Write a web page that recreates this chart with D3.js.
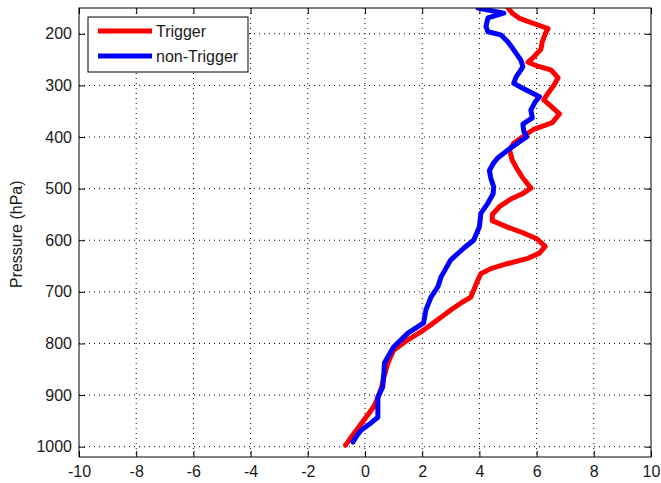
<!DOCTYPE html>
<html>
<head>
<meta charset="utf-8">
<script src="https://cdn.jsdelivr.net/npm/d3@7"></script>
<style>
  html, body { margin: 0; padding: 0; background: #fff; }
  svg { display: block; }
  text { font-family: "Liberation Sans", Arial, sans-serif; fill: #1a1a1a; }
</style>
</head>
<body>
<svg id="chart" width="661" height="483"></svg>
<script>
// Pressure levels (hPa) and values for each profile
const triggerPressure = [150,160,170,180,190,200,215,230,245,255,262,270,285,300,315,328,340,355,372,385,400,412,425,445,460,478,499,510,520,535,550,562,575,585,597,612,625,635,645,655,665,683,697,710,722,735,749,762,774,793,813,838,865,885,905,923,948,974,997];
const triggerValues   = [5.0,5.15,5.4,5.9,6.4,6.3,6.2,6.15,5.9,5.7,6.0,6.5,6.75,6.6,6.4,6.25,6.5,6.8,6.55,5.9,5.5,5.2,5.05,5.15,5.3,5.5,5.8,5.5,5.1,4.7,4.45,4.45,5.0,5.5,6.0,6.3,6.1,5.7,5.0,4.4,4.05,3.9,3.8,3.7,3.35,3.0,2.66,2.35,2.05,1.5,1.0,0.8,0.66,0.58,0.45,0.3,-0.03,-0.38,-0.68];

const nonTriggerPressure = [150,160,169,186,196,202,216,231,251,264,284,296,305,322,332,348,363,375,388,400,410,425,440,450,465,480,497,510,528,548,574,600,615,638,671,690,710,735,760,780,807,826,838,857,884,904,943,954,968,980,991];
const nonTriggerValues   = [3.95,4.85,4.3,4.23,4.3,4.75,5.0,5.2,5.45,5.52,5.28,5.2,5.5,6.1,5.95,5.8,5.85,5.52,5.55,5.65,5.38,5.0,4.65,4.5,4.35,4.4,4.5,4.48,4.3,4.05,4.0,3.8,3.46,3.0,2.66,2.55,2.31,2.13,2.05,1.5,1.0,0.8,0.68,0.66,0.62,0.45,0.45,0.21,-0.14,-0.3,-0.42];

const xTicks = [-10,-8,-6,-4,-2,0,2,4,6,8,10];
const yTicks = [200,300,400,500,600,700,800,900,1000];
const seriesNames = ["Trigger", "non-Trigger"];
const seriesColors = ["#ff0000", "#0000ff"];
const yTitle = "Pressure (hPa)";

const margin = { left: 79, right: 10, top: 8, bottom: 26 };
const W = 661, H = 483;
const pw = W - margin.left - margin.right;
const ph = H - margin.top - margin.bottom;

const svg = d3.select("#chart");
const g = svg.append("g").attr("transform", `translate(${margin.left},${margin.top})`);

const x = d3.scaleLinear().domain([-10, 10]).range([0, pw]);
const y = d3.scaleLinear().domain([150, 1020]).range([0, ph]);

// plain labels with a hyphen minus and no thousands separator
const plain = d => String(d);

// dotted grid
const grid = g.append("g").attr("class", "grid");
grid.selectAll("line.gx").data(xTicks.slice(1, -1)).join("line")
  .attr("x1", d => x(d)).attr("x2", d => x(d))
  .attr("y1", 0).attr("y2", ph)
  .attr("stroke", "#000").attr("stroke-width", 1).attr("stroke-dasharray", "1,4");
grid.selectAll("line.gy").data(yTicks).join("line")
  .attr("y1", d => y(d)).attr("y2", d => y(d))
  .attr("x1", 0).attr("x2", pw)
  .attr("stroke", "#000").attr("stroke-width", 1).attr("stroke-dasharray", "1,4");

svg.append("defs").append("clipPath").attr("id", "clip")
  .append("rect").attr("x", 0).attr("y", 0).attr("width", pw).attr("height", ph);

// profiles
const line = d3.line().x(d => x(d[1])).y(d => y(d[0]));
const series = [
  d3.zip(triggerPressure, triggerValues),
  d3.zip(nonTriggerPressure, nonTriggerValues)
];
g.append("g").attr("clip-path", "url(#clip)")
  .selectAll("path.profile").data(series).join("path")
  .attr("class", "profile")
  .attr("d", line)
  .attr("fill", "none")
  .attr("stroke", (d, i) => seriesColors[i])
  .attr("stroke-width", 5)
  .attr("stroke-linejoin", "round")
  .attr("stroke-linecap", "round");

// axes with inward ticks on all four sides
const tickLen = 6;
const axB = g.append("g").attr("transform", `translate(0,${ph})`)
  .call(d3.axisBottom(x).tickValues(xTicks).tickFormat(plain).tickSizeInner(-tickLen).tickSizeOuter(0).tickPadding(9));
const axT = g.append("g")
  .call(d3.axisTop(x).tickValues(xTicks).tickSizeInner(-tickLen).tickSizeOuter(0).tickFormat(""));
const axL = g.append("g")
  .call(d3.axisLeft(y).tickValues(yTicks).tickFormat(plain).tickSizeInner(-tickLen).tickSizeOuter(0).tickPadding(7));
const axR = g.append("g").attr("transform", `translate(${pw},0)`)
  .call(d3.axisRight(y).tickValues(yTicks).tickSizeInner(-tickLen).tickSizeOuter(0).tickFormat(""));

[axB, axT, axL, axR].forEach(a => {
  a.select(".domain").remove();
  a.selectAll(".tick line").attr("stroke", "#000");
});
[axB, axL].forEach(a => a.selectAll(".tick text")
  .attr("font-size", 16).attr("fill", "#1a1a1a")
  .style("font-family", "'Liberation Sans', Arial, sans-serif"));

// box frame
g.append("rect").attr("x", 0).attr("y", 0).attr("width", pw).attr("height", ph)
  .attr("fill", "none").attr("stroke", "#000").attr("stroke-width", 1);

// y-axis title
svg.append("text")
  .attr("transform", `translate(22,${margin.top + y(600) - 6}) rotate(-90)`)
  .attr("text-anchor", "middle")
  .attr("font-size", 16)
  .text(yTitle);

// legend
const lg = svg.append("g").attr("transform", "translate(88,17)");
lg.append("rect").attr("width", 160).attr("height", 55)
  .attr("fill", "#fff").attr("stroke", "#000").attr("stroke-width", 1);
seriesNames.forEach((name, i) => {
  const cy = 14 + i * 25;
  lg.append("line").attr("x1", 10).attr("x2", 64).attr("y1", cy).attr("y2", cy)
    .attr("stroke", seriesColors[i]).attr("stroke-width", 5);
  lg.append("text").attr("x", 68).attr("y", cy).attr("dy", "0.35em")
    .attr("font-size", 16).text(name);
});
</script>
</body>
</html>
